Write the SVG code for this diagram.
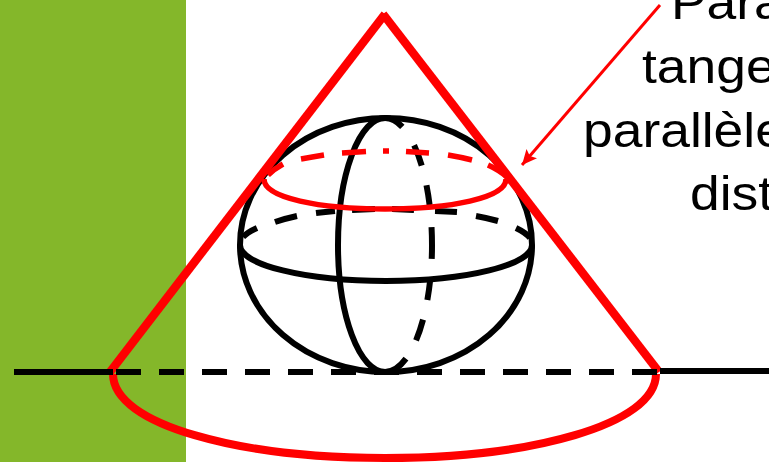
<svg xmlns="http://www.w3.org/2000/svg" width="769" height="462" viewBox="0 0 769 462">
<style>
.k{fill:none;stroke:#000;stroke-width:6}
.r{fill:none;stroke:#f00}
.t{font-family:"Liberation Sans",Arial,sans-serif;font-size:49px;fill:#000}
</style>
<defs>
<marker id="ah" markerUnits="userSpaceOnUse" markerWidth="16" markerHeight="16" refX="15" refY="7" orient="auto"><path d="M0 0L15 7L0 14L3 7Z" fill="#f00"/></marker>
</defs>
<rect id="band" x="0" y="0" width="186" height="462" fill="#84b72a"/>
<g id="sphere">
<ellipse class="k" cx="386" cy="245" rx="146" ry="127"/>
<path class="k" d="M240 245A146 36 0 0 0 532 245"/>
<path class="k" d="M530 238A146 36 0 0 0 516 228M498 221A146 36 0 0 0 476 216M457 212A146 36 0 0 0 435 211M414 210A146 36 0 0 0 392 209M375 209A146 36 0 0 0 352 210M335 211A146 36 0 0 0 316 213M297 216A146 36 0 0 0 275 222M257 228A146 36 0 0 0 243 237"/>
<path class="k" d="M385 118A47 127 0 0 0 385 372"/>
<path class="k" stroke-dasharray="20 22 22 20 20 22 32 21 20 20 22 21 60" d="M385 118A47 127 0 0 1 385 372"/>
</g>
<g id="parallel">
<path class="r" stroke-width="5.5" d="M264 179C264 198 320 209 385 209C450 209 506 198 506 179"/>
<path class="r" stroke-width="5.5" d="M268 175Q274 169 283 164M301 159Q312 157 324 155M342 153L366 151.5M383 151H389M406 151.5L429 153M448 155Q460 157 472 160M488 165Q499 170 507 177"/>
</g>
<g id="cone">
<path class="r" stroke-width="8.5" d="M110 372L385 14"/>
<path class="r" stroke-width="8.5" d="M659 372L383 14"/>
<path class="r" stroke-width="8" d="M113 374C113 425 240 458 385 458C530 458 656 425 656 374"/>
</g>
<g id="connectors">
<path class="k" d="M14 372H113"/>
<path class="k" d="M660 371H769"/>
<path class="k" stroke-dasharray="25 18" d="M116 372H657"/>
<path class="r" stroke-width="3" marker-end="url(#ah)" d="M660 5L522 165"/>
</g>
<g id="label">
<text class="t" transform="translate(671 19) scale(1.09 1)">Para</text>
<text class="t" transform="translate(642 83) scale(1.09 1)">tange</text>
<text class="t" transform="translate(583 147) scale(1.09 1)">parallèle</text>
<text class="t" transform="translate(690 210) scale(1.09 1)">dist</text>
</g>
</svg>
